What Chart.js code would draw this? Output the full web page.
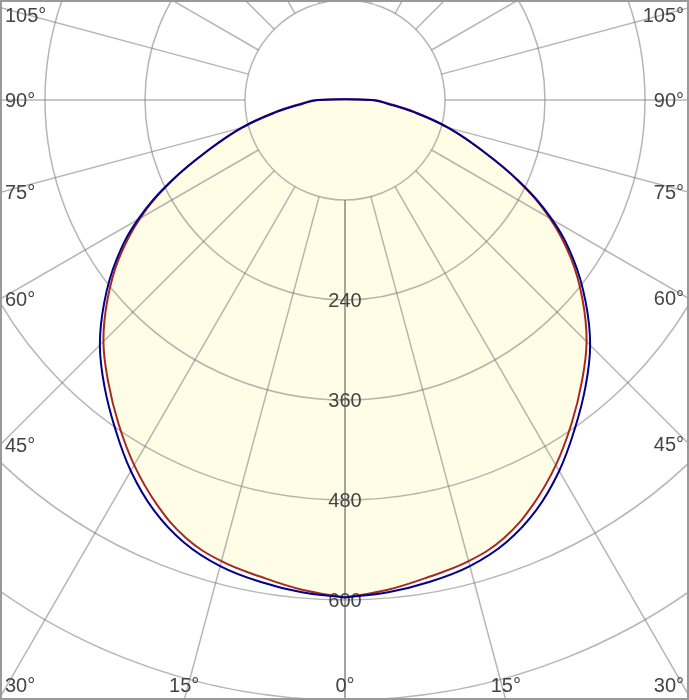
<!DOCTYPE html>
<html>
<head>
<meta charset="utf-8">
<style>
  html, body { margin: 0; padding: 0; background: #fff; }
  #wrap { width: 689px; height: 700px; }
</style>
</head>
<body>
<div id="wrap"><canvas id="polar" width="689" height="700"></canvas></div>
<script src="https://cdn.jsdelivr.net/npm/chart.js@4.4.1/dist/chart.umd.min.js"></script>
<script>
/* global Chart */

// Luminous intensity (cd) per gamma angle
const angles = [0, 5, 10, 15, 20, 25, 30, 35, 40, 45, 50, 55, 60, 65, 70, 75, 80, 85, 90];
const planeC0 = [597, 590, 581, 573, 559, 535, 506, 474, 442, 410, 372, 331, 284, 229, 173, 128, 86, 54, 34];
const planeC90 = [597, 593, 587, 579, 565, 543, 514, 481, 449, 416, 377, 335, 287, 230, 173, 128, 84, 51, 32];

// grid
const ringValues = [120, 240, 360, 480, 600, 720, 840];
const ringLabels = [240, 360, 480, 600];
const spokeAngles = [0, 15, 30, 45, 60, 75, 90, 105, 120, 135, 150, 165, 180];

const W = 689, H = 700;
const CENTER_PX = { x: 345, y: 100 };
const CD_PER_PX = 1.2;

const GRID = "rgba(110,110,110,.5)";
const LABEL = "#444";
const FONT = '20px "Liberation Sans", Arial, sans-serif';

function toPoints(values) {
  // left half goes up from 0° to 90°, right half comes back down
  const pts = [];
  for (let i = 0; i < angles.length; i++) {
    const a = angles[i] * Math.PI / 180;
    pts.push({ x: -values[i] * Math.sin(a), y: -values[i] * Math.cos(a) });
  }
  for (let i = angles.length - 1; i >= 0; i--) {
    const a = angles[i] * Math.PI / 180;
    pts.push({ x: values[i] * Math.sin(a), y: -values[i] * Math.cos(a) });
  }
  return pts;
}

function clamp(v, lo, hi) {
  return Math.max(lo, Math.min(hi, v));
}

const polarGrid = {
  id: "polarGrid",
  afterDatasetDraw(chart, args) {
    if (args.index !== 0) return; // right after the yellow fill
    const { ctx, scales: { x, y } } = chart;
    const px = (v) => x.getPixelForValue(v);
    const py = (v) => y.getPixelForValue(v);
    const cx = px(0), cy = py(0);

    ctx.save();
    ctx.strokeStyle = GRID;
    ctx.lineWidth = 1.5;
    ringValues.forEach((v) => {
      ctx.beginPath();
      ctx.arc(cx, cy, px(v) - cx, 0, Math.PI * 2);
      ctx.stroke();
    });
    const r0 = ringValues[0], r1 = 2000;
    spokeAngles.forEach((deg) => {
      [-1, 1].forEach((side) => {
        const a = deg * Math.PI / 180;
        const s = side * Math.sin(a), c = Math.cos(a);
        ctx.beginPath();
        ctx.moveTo(px(r0 * s), py(-r0 * c));
        ctx.lineTo(px(r1 * s), py(-r1 * c));
        ctx.stroke();
      });
    });

    ctx.font = FONT;
    ctx.fillStyle = LABEL;
    ctx.textAlign = "center";
    ctx.textBaseline = "middle";
    ringLabels.forEach((v) => ctx.fillText(String(v), cx, py(-v) + 1));

    // angle labels where the spokes leave the frame (sides and bottom)
    const pad = 5, top = 8, bottom = H - 8, half = 7;
    spokeAngles.forEach((deg) => {
      [-1, 1].forEach((side) => {
        if (deg === 0 && side > 0) return;
        const a = deg * Math.PI / 180;
        const dx = side * Math.sin(a), dy = Math.cos(a);
        const tx = Math.abs(dx) < 1e-9 ? Infinity : (dx < 0 ? cx / -dx : (W - cx) / dx);
        let ty;
        if (dy > 1e-9) ty = (H - cy) / dy;
        else if (dy < -1e-9) ty = cy / -dy;
        else ty = Infinity;
        const text = `${deg}°`;
        if (tx <= ty) {
          ctx.textAlign = dx < 0 ? "left" : "right";
          ctx.textBaseline = "middle";
          const ly = clamp(cy + tx * dy, top + half, bottom - half);
          ctx.fillText(text, dx < 0 ? pad : W - pad, ly + 1);
        } else if (dy > 0) {
          ctx.textAlign = "center";
          ctx.textBaseline = "alphabetic";
          ctx.fillText(text, cx + ty * dx, bottom);
        }
      });
    });
    ctx.restore();
  },
  afterDraw(chart) {
    const { ctx } = chart;
    ctx.save();
    ctx.strokeStyle = "#999";
    ctx.lineWidth = 2;
    ctx.strokeRect(1, 1, W - 2, H - 2);
    ctx.restore();
  },
};

const xMin = -CENTER_PX.x * CD_PER_PX;
const xMax = (W - CENTER_PX.x) * CD_PER_PX;
const yMax = CENTER_PX.y * CD_PER_PX;
const yMin = -(H - CENTER_PX.y) * CD_PER_PX;

// eslint-disable-next-line no-new
new Chart(document.getElementById("polar"), {
  type: "scatter",
  data: {
    datasets: [
      {
        label: "fill",
        data: toPoints(planeC0),
        showLine: true,
        fill: "shape",
        backgroundColor: "#fffde6",
        borderWidth: 0,
        pointRadius: 0,
        tension: 0.4,
        order: 10,
      },
      {
        label: "C0-C180",
        data: toPoints(planeC0),
        showLine: true,
        fill: false,
        borderColor: "#a52a1f",
        borderWidth: 2,
        pointRadius: 0,
        tension: 0.4,
        order: 2,
      },
      {
        label: "C90-C270",
        data: toPoints(planeC90),
        showLine: true,
        fill: false,
        borderColor: "#00008b",
        borderWidth: 2,
        pointRadius: 0,
        tension: 0.4,
        order: 1,
      },
    ],
  },
  options: {
    responsive: false,
    animation: false,
    events: [],
    layout: { padding: 0 },
    plugins: {
      legend: { display: false },
      tooltip: { enabled: false },
    },
    scales: {
      x: { type: "linear", display: false, min: xMin, max: xMax },
      y: { type: "linear", display: false, min: yMin, max: yMax },
    },
  },
  plugins: [polarGrid],
});
</script>
</body>
</html>
